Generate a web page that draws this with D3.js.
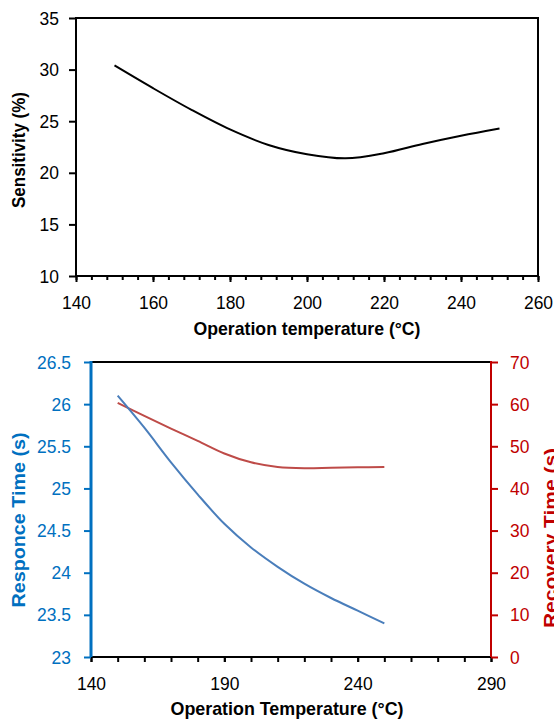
<!DOCTYPE html>
<html>
<head>
<meta charset="utf-8">
<script src="https://cdn.jsdelivr.net/npm/d3@7"></script>
<style>
  html, body { margin: 0; padding: 0; background: #fff; }
  svg { display: block; font-family: "Liberation Sans", Arial, sans-serif; }
</style>
</head>
<body>
<svg id="chart" width="554" height="722"></svg>
<script>
// Sensitivity vs operating temperature
const sensTemp = [150, 160, 170, 180, 190, 200, 210, 220, 230, 240, 250];
const sensitivity = [30.4, 28.2, 26.1, 24.2, 22.7, 21.8, 21.4, 21.9, 22.8, 23.6, 24.3];
const sensXTicks = [140, 160, 180, 200, 220, 240, 260];
const sensYTicks = [10, 15, 20, 25, 30, 35];

// Response / recovery time vs operating temperature
const timeTemp = [150, 160, 170, 180, 190, 200, 210, 220, 230, 240, 250];
const responseTime = [26.10, 25.72, 25.31, 24.93, 24.58, 24.30, 24.07, 23.87, 23.70, 23.55, 23.40];
const recoveryTime = [60.3, 57.2, 54.2, 51.3, 48.3, 46.2, 45.1, 44.8, 44.9, 45.0, 45.1];
const timeXTicks = [140, 190, 240, 290];
const responseTicks = [23, 23.5, 24, 24.5, 25, 25.5, 26, 26.5];
const recoveryTicks = [0, 10, 20, 30, 40, 50, 60, 70];

const BLUE_AXIS = "#0070C0", RED_AXIS = "#C00000";
const BLUE_LINE = "#4A7EBB", RED_LINE = "#BE4B48";
const SQUEEZE = 0.92;

const svg = d3.select("#chart");

// Slightly condensed tick labels
function styleTicks(g, color, shiftX) {
  g.selectAll("text")
    .attr("font-size", 19)
    .attr("fill", color)
    .attr("transform", `scale(${SQUEEZE},1)`);
  if (shiftX !== undefined) g.selectAll("text").attr("x", shiftX / SQUEEZE);
  g.selectAll(".tick line").attr("stroke", color).attr("stroke-width", 2);
  g.select(".domain").remove();
}

function minorRange(a, b, step) {
  return d3.range(a, b + step / 2, step);
}

// ---------- Top chart ----------
{
  const x = d3.scaleLinear().domain([140, 260]).range([76, 538]);
  const y = d3.scaleLinear().domain([10, 35]).range([276, 18]);

  // minor x ticks
  svg.append("g").attr("transform", `translate(0,${y(10)})`)
    .call(d3.axisBottom(x).tickValues(minorRange(140, 260, 4)).tickSize(4).tickFormat("").tickSizeOuter(0))
    .call(g => { g.select(".domain").remove(); g.selectAll("line").attr("stroke", "#000").attr("stroke-width", 2); });

  svg.append("g").attr("transform", `translate(0,${y(10)})`)
    .call(d3.axisBottom(x).tickValues(sensXTicks).tickSize(6).tickPadding(13.5).tickSizeOuter(0))
    .call(g => styleTicks(g, "#000"));

  svg.append("g").attr("transform", `translate(${x(140)},0)`)
    .call(d3.axisLeft(y).tickValues(sensYTicks).tickSize(7).tickSizeOuter(0))
    .call(g => styleTicks(g, "#000", -17));

  svg.append("rect")
    .attr("x", x(140)).attr("y", y(35))
    .attr("width", x(260) - x(140)).attr("height", y(10) - y(35))
    .attr("fill", "none").attr("stroke", "#000").attr("stroke-width", 2);

  svg.append("path")
    .datum(sensTemp.map((t, i) => [t, sensitivity[i]]))
    .attr("fill", "none").attr("stroke", "#000").attr("stroke-width", 2)
    .attr("d", d3.line().x(d => x(d[0])).y(d => y(d[1])).curve(d3.curveCatmullRom.alpha(0.5)));

  svg.append("text")
    .attr("x", 307).attr("y", 335).attr("text-anchor", "middle")
    .attr("font-size", 19).attr("font-weight", "bold")
    .attr("textLength", 227).attr("lengthAdjust", "spacingAndGlyphs")
    .text("Operation temperature (°C)");

  svg.append("text")
    .attr("transform", "translate(25,150) rotate(-90)")
    .attr("text-anchor", "middle")
    .attr("font-size", 18).attr("font-weight", "bold")
    .attr("textLength", 116).attr("lengthAdjust", "spacingAndGlyphs")
    .text("Sensitivity (%)");
}

// ---------- Bottom chart ----------
{
  const x = d3.scaleLinear().domain([140, 290]).range([91, 491]);
  const yL = d3.scaleLinear().domain([23, 26.5]).range([657, 362]);
  const yR = d3.scaleLinear().domain([0, 70]).range([657, 362]);

  // x axis ticks
  svg.append("g").attr("transform", `translate(0,${yL(23)})`)
    .call(d3.axisBottom(x).tickValues(minorRange(140, 290, 10)).tickSize(5).tickFormat("").tickSizeOuter(0))
    .call(g => { g.select(".domain").remove(); g.selectAll("line").attr("stroke", "#000").attr("stroke-width", 2); });

  svg.append("g").attr("transform", `translate(0,${yL(23)})`)
    .call(d3.axisBottom(x).tickValues(timeXTicks).tickSize(5).tickPadding(14.5).tickSizeOuter(0))
    .call(g => styleTicks(g, "#000"));

  svg.append("g").attr("transform", `translate(${x(140)},0)`)
    .call(d3.axisLeft(yL).tickValues(responseTicks).tickSize(7).tickSizeOuter(0).tickFormat(d3.format("")))
    .call(g => styleTicks(g, BLUE_AXIS, -20));

  svg.append("g").attr("transform", `translate(${x(290)},0)`)
    .call(d3.axisRight(yR).tickValues(recoveryTicks).tickSize(7).tickSizeOuter(0))
    .call(g => styleTicks(g, RED_AXIS, 19));

  // frame lines
  svg.append("line").attr("x1", x(140)).attr("x2", x(290)).attr("y1", yL(26.5)).attr("y2", yL(26.5))
    .attr("stroke", "#000").attr("stroke-width", 2);
  svg.append("line").attr("x1", x(140)).attr("x2", x(290)).attr("y1", yL(23)).attr("y2", yL(23))
    .attr("stroke", "#000").attr("stroke-width", 2);
  svg.append("line").attr("x1", x(290)).attr("x2", x(290)).attr("y1", yR(70) - 1).attr("y2", yR(0))
    .attr("stroke", RED_AXIS).attr("stroke-width", 2);
  svg.append("line").attr("x1", x(140)).attr("x2", x(140)).attr("y1", yL(26.5) - 1).attr("y2", yL(23))
    .attr("stroke", BLUE_AXIS).attr("stroke-width", 3);

  const curve = d3.curveCatmullRom.alpha(0.5);
  svg.append("path")
    .datum(timeTemp.map((t, i) => [t, recoveryTime[i]]))
    .attr("fill", "none").attr("stroke", RED_LINE).attr("stroke-width", 2)
    .attr("d", d3.line().x(d => x(d[0])).y(d => yR(d[1])).curve(curve));

  svg.append("path")
    .datum(timeTemp.map((t, i) => [t, responseTime[i]]))
    .attr("fill", "none").attr("stroke", BLUE_LINE).attr("stroke-width", 2)
    .attr("d", d3.line().x(d => x(d[0])).y(d => yL(d[1])).curve(curve));

  svg.append("text")
    .attr("x", 287).attr("y", 715).attr("text-anchor", "middle")
    .attr("font-size", 19).attr("font-weight", "bold")
    .attr("textLength", 233).attr("lengthAdjust", "spacingAndGlyphs")
    .text("Operation Temperature (°C)");

  svg.append("text")
    .attr("transform", "translate(25,520) rotate(-90)")
    .attr("text-anchor", "middle")
    .attr("font-size", 19).attr("font-weight", "bold").attr("fill", BLUE_AXIS)
    .attr("textLength", 175).attr("lengthAdjust", "spacingAndGlyphs")
    .text("Responce Time (s)");

  svg.append("text")
    .attr("transform", "translate(557,538) rotate(-90)")
    .attr("text-anchor", "middle")
    .attr("font-size", 19).attr("font-weight", "bold").attr("fill", RED_AXIS)
    .attr("textLength", 180).attr("lengthAdjust", "spacingAndGlyphs")
    .text("Recovery Time (s)");
}
</script>
</body>
</html>
